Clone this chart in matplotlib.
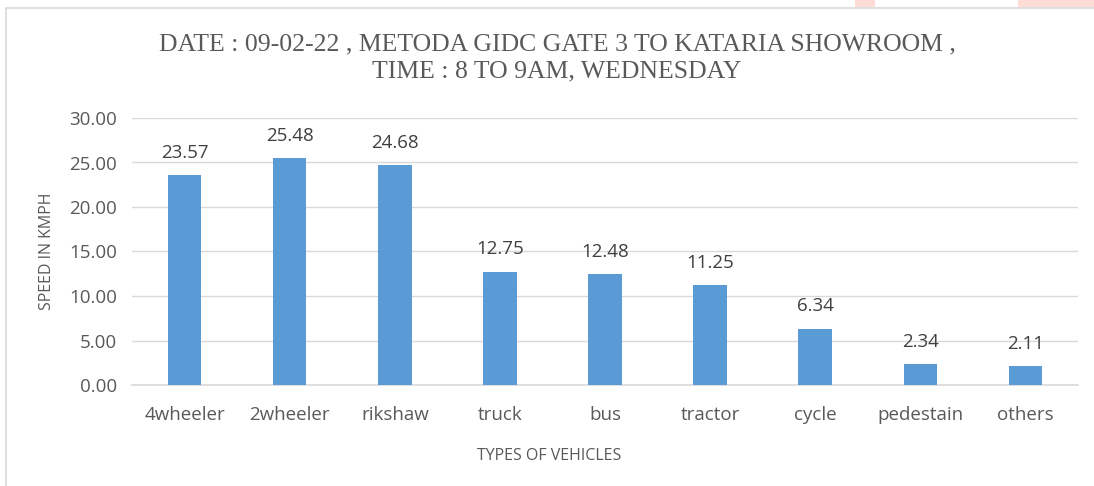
import matplotlib
matplotlib.use("Agg")
import matplotlib.pyplot as plt
from matplotlib.patches import Rectangle

categories = ["4wheeler", "2wheeler", "rikshaw", "truck", "bus", "tractor", "cycle", "pedestain", "others"]
speeds = [23.57, 25.48, 24.68, 12.75, 12.48, 11.25, 6.34, 2.34, 2.11]
yticks = [0, 5, 10, 15, 20, 25, 30]

W, H = 1094, 486
fig = plt.figure(figsize=(W/100, H/100), dpi=100)
fig.patch.set_facecolor("white")

# outer chart border
fig.add_artist(Rectangle((6/W, -0.05), 1.2, (H-8)/H + 0.05, transform=fig.transFigure,
                         fill=False, edgecolor="#d9d9d9", linewidth=1.2))
# pink artifacts at top
fig.add_artist(Rectangle((855/W, (H-7)/H), 20/W, 7/H, transform=fig.transFigure,
                         facecolor="#ffdcd6", edgecolor="none"))
fig.add_artist(Rectangle((1018/W, (H-7)/H), 76/W, 7/H, transform=fig.transFigure,
                         facecolor="#ffdcd6", edgecolor="none"))

ax = fig.add_axes([132/W, 1-385/H, (1078-132)/W, (385-118)/H])
x = range(len(categories))
bars = ax.bar(x, speeds, width=0.32, color="#5b9bd5", zorder=3)
ax.set_xlim(-0.5, len(categories)-0.5)
ax.set_ylim(0, 30)
ax.set_yticks(yticks)
ax.set_yticklabels([f"{v:.2f}" for v in yticks], fontsize=13.5, color="#595959", family="Open Sans")
ax.set_xticks(list(x))
ax.set_xticklabels(categories, fontsize=13.5, color="#595959", family="Open Sans")
ax.tick_params(axis="y", length=0, pad=11)
ax.tick_params(axis="x", length=0, pad=15)
ax.grid(axis="y", color="#d9d9d9", linewidth=1, zorder=0)
for s in ["top", "right", "left"]:
    ax.spines[s].set_visible(False)
ax.spines["bottom"].set_color("#d9d9d9")
ax.spines["bottom"].set_linewidth(1.2)

for b, v in zip(bars, speeds):
    ax.text(b.get_x() + b.get_width()/2, v + 1.5, f"{v:.2f}", ha="center", va="bottom",
            fontsize=13.5, color="#404040", family="Open Sans")

fig.text(47/W, 1-251/H, "SPEED IN KMPH", rotation=90, ha="center", va="center",
         fontsize=11.5, color="#595959", family="Open Sans")
fig.text(549/W, 1-456/H, "TYPES OF VEHICLES", ha="center", va="center",
         fontsize=11.5, color="#595959", family="Open Sans")
fig.text(557/W, 1-50/H, "DATE : 09-02-22 , METODA GIDC GATE 3 TO KATARIA SHOWROOM ,",
         ha="center", va="baseline", fontsize=18.5, color="#595959", family="Liberation Serif")
fig.text(557/W, 1-77/H, "TIME : 8 TO 9AM, WEDNESDAY",
         ha="center", va="baseline", fontsize=18.5, color="#595959", family="Liberation Serif")

fig.savefig("out.png", dpi=100)
